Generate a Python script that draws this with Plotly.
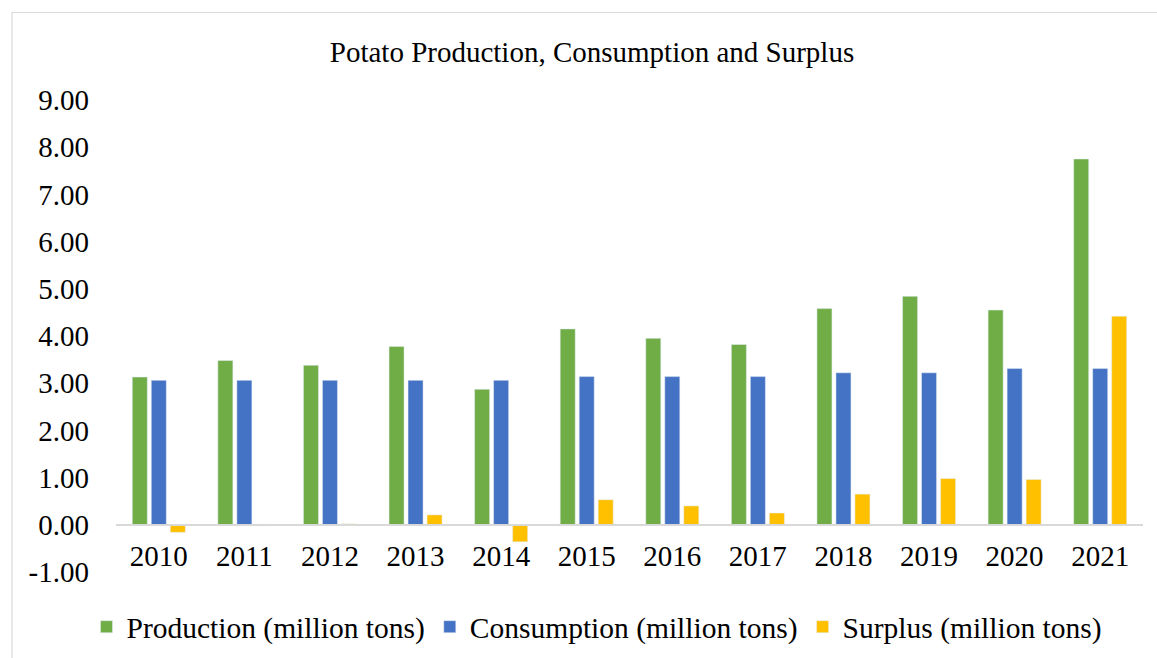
import plotly.graph_objects as go

years = ["2010", "2011", "2012", "2013", "2014", "2015", "2016", "2017", "2018", "2019", "2020", "2021"]
production = [3.13, 3.48, 3.38, 3.78, 2.87, 4.15, 3.95, 3.82, 4.58, 4.84, 4.55, 7.75]
consumption = [3.06, 3.06, 3.06, 3.06, 3.06, 3.14, 3.14, 3.14, 3.22, 3.22, 3.31, 3.31]
surplus = [-0.16, -0.02, 0.02, 0.21, -0.36, 0.53, 0.40, 0.25, 0.65, 0.98, 0.96, 4.42]
y_tick_vals = [-1, 0, 1, 2, 3, 4, 5, 6, 7, 8, 9]
y_tick_text = ["-1.00", "0.00", "1.00", "2.00", "3.00", "4.00", "5.00", "6.00", "7.00", "8.00", "9.00"]

FONT = "Liberation Serif"
W, H = 1157, 658
ML, MR, MT, MB = 116, 14, 100, 86
PW, PH = W - ML - MR, H - MT - MB


def px_x(p):
    return (p - ML) / PW


def px_y(p):
    return (H - MB - p) / PH


fig = go.Figure()
fig.add_trace(go.Bar(x=years, y=production, name="Production (million tons)",
                     marker=dict(color="#70AD47")))
fig.add_trace(go.Bar(x=years, y=consumption, name="Consumption (million tons)",
                     marker=dict(color="#4472C4")))
fig.add_trace(go.Bar(x=years, y=surplus, name="Surplus (million tons)",
                     marker=dict(color="#FFC000")))

fig.update_layout(
    width=W, height=H,
    margin=dict(l=ML, r=MR, t=MT, b=MB, autoexpand=False),
    paper_bgcolor="white", plot_bgcolor="white",
    barmode="group", bargap=0.334, bargroupgap=0.21,
    font=dict(family=FONT, color="#000000"),
    title=dict(text="Potato Production, Consumption and Surplus",
               x=592 / W, xanchor="center", xref="container",
               y=1 - 52 / H, yanchor="middle", yref="container",
               font=dict(family=FONT, size=29, color="#000000")),
    xaxis=dict(type="category", anchor="free", position=0.1, showline=True,
               linecolor="#D9D9D9", linewidth=1.5, showgrid=False, zeroline=False,
               ticks="", tickangle=0,
               tickfont=dict(family=FONT, size=29, color="#000000"),
               ticklabelstandoff=6),
    yaxis=dict(range=[-1, 9], tickvals=y_tick_vals, ticktext=y_tick_text,
               showgrid=False, zeroline=False, showline=False, ticks="",
               tickfont=dict(family=FONT, size=29, color="#000000"),
               ticklabelstandoff=26),
    legend=dict(orientation="h", x=597 / W, xref="container", xanchor="center",
                y=px_y(627), yanchor="middle",
                font=dict(family=FONT, size=29.5, color="#000000"),
                bgcolor="rgba(0,0,0,0)", itemwidth=30, tracegroupgap=0),
    showlegend=True,
)

fig.add_shape(type="rect", xref="paper", yref="paper",
              x0=px_x(12), x1=px_x(1175), y0=px_y(670), y1=px_y(12.5),
              line=dict(color="#D9D9D9", width=1.2), fillcolor="rgba(0,0,0,0)",
              layer="below")

fig.write_html("out.html")
